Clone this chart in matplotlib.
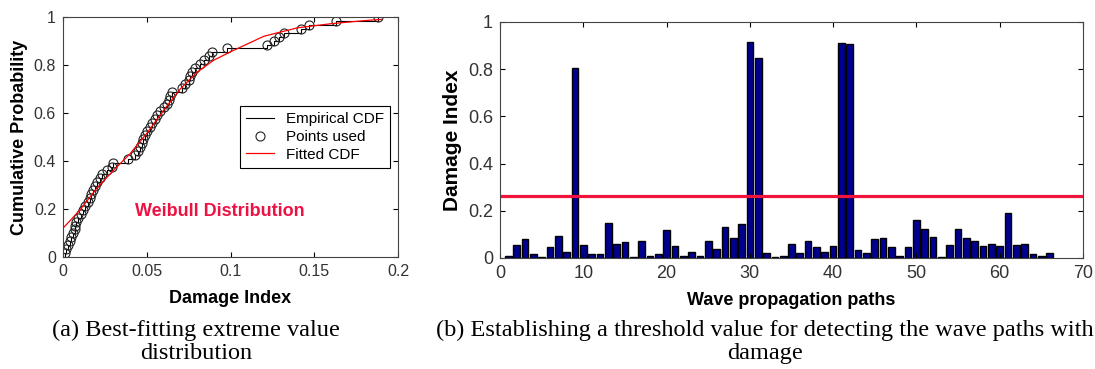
import matplotlib
matplotlib.use("Agg")
import matplotlib.pyplot as plt
import numpy as np

plt.rcParams['font.family'] = ['Liberation Sans', 'DejaVu Sans']

# (a) damage indices of the undamaged paths, sorted
di_sorted = [0.001, 0.002, 0.003, 0.004, 0.005, 0.006, 0.007, 0.007, 0.008, 0.009,
             0.011, 0.012, 0.013, 0.015, 0.016, 0.017, 0.018, 0.019, 0.020, 0.022,
             0.023, 0.026, 0.029, 0.030, 0.039, 0.043, 0.045, 0.046, 0.047, 0.048,
             0.049, 0.050, 0.052, 0.053, 0.055, 0.056, 0.058, 0.060, 0.062, 0.063,
             0.064, 0.065, 0.071, 0.073, 0.075, 0.076, 0.077, 0.079, 0.082, 0.084,
             0.087, 0.089, 0.098, 0.122, 0.126, 0.129, 0.132, 0.142, 0.147, 0.163,
             0.188]

# fitted CDF curve
fit_x = [0.0, 0.01, 0.02, 0.03, 0.04, 0.05, 0.06, 0.07, 0.08, 0.09, 0.10,
         0.12, 0.14, 0.16, 0.18, 0.19]
fit_y = [0.12, 0.195, 0.285, 0.36, 0.43, 0.515, 0.61, 0.70, 0.77, 0.82, 0.855,
         0.92, 0.955, 0.972, 0.985, 0.99]

# (b) damage index per wave propagation path
paths = list(range(1, 67))
damage = [0.010, 0.055, 0.080, 0.015, 0.005, 0.045, 0.095, 0.025, 0.805, 0.055,
          0.015, 0.015, 0.148, 0.060, 0.066, 0.005, 0.073, 0.010, 0.015, 0.120,
          0.050, 0.010, 0.027, 0.010, 0.073, 0.040, 0.132, 0.085, 0.143, 0.917,
          0.847, 0.020, 0.005, 0.010, 0.060, 0.020, 0.073, 0.045, 0.027, 0.050,
          0.910, 0.905, 0.033, 0.020, 0.080, 0.085, 0.045, 0.010, 0.045, 0.160,
          0.125, 0.090, 0.005, 0.055, 0.125, 0.085, 0.073, 0.050, 0.060, 0.050,
          0.190, 0.055, 0.060, 0.015, 0.010, 0.020]
threshold = 0.262

W, H = 1095, 369
fig = plt.figure(figsize=(W / 100, H / 100), dpi=100)


def px_axes(x0, y0, x1, y1):
    return fig.add_axes([x0 / W, 1 - y1 / H, (x1 - x0) / W, (y1 - y0) / H])


def style(ax, size):
    ax.tick_params(direction='in', length=3.5, width=0.8, top=True, right=True,
                   labelsize=size, labelcolor='#333333', pad=5)
    for s in ax.spines.values():
        s.set_linewidth(0.8)
        s.set_color('#444444')


# ---- left: empirical vs fitted CDF ----
ax1 = px_axes(63, 17, 398, 257)
n = len(di_sorted)
cdf = np.arange(1, n + 1) / n
ax1.step([di_sorted[0]] + di_sorted, [0] + list(cdf), where='post',
         color='black', lw=0.8, label='Empirical CDF')
ax1.plot(di_sorted, cdf, 'o', ms=6.5, mfc='none', mec='#222222', mew=0.8,
         label='Points used')
ax1.plot(fit_x, fit_y, color='red', lw=0.9, label='Fitted CDF')
ax1.set_xlim(0, 0.2)
ax1.set_ylim(0, 1)
ax1.set_xticks([0, 0.05, 0.1, 0.15, 0.2])
ax1.set_xticklabels(['0', '0.05', '0.1', '0.15', '0.2'])
ax1.set_yticks([0, 0.2, 0.4, 0.6, 0.8, 1])
ax1.set_yticklabels(['0', '0.2', '0.4', '0.6', '0.8', '1'])
style(ax1, 11.5)
ax1.set_xlabel('Damage Index', fontsize=13, fontweight='bold', labelpad=8)
ax1.set_ylabel('Cumulative Probability', fontsize=13, fontweight='bold', labelpad=4)
ax1.text(0.043, 0.19, 'Weibull Distribution', color='#EE1144', fontsize=13,
         fontweight='bold', va='center')
leg = ax1.legend(loc='center right', bbox_to_anchor=(0.976, 0.5), fontsize=11,
                 frameon=True, fancybox=False, edgecolor='black', framealpha=1,
                 handlelength=1.8, handletextpad=0.8, borderpad=0.4,
                 labelspacing=0.25, borderaxespad=0)
leg.get_frame().set_linewidth(0.8)

# ---- right: damage index per path ----
ax2 = px_axes(500, 22, 1083, 258)
ax2.bar(paths, damage, width=0.8, color='#000090', edgecolor='black', linewidth=1.0)
ax2.axhline(threshold, color='#F0143C', lw=2.3)
ax2.set_xlim(0, 70)
ax2.set_ylim(0, 1)
ax2.set_xticks(range(0, 71, 10))
ax2.set_yticks([0, 0.2, 0.4, 0.6, 0.8, 1])
ax2.set_yticklabels(['0', '0.2', '0.4', '0.6', '0.8', '1'])
style(ax2, 13)
ax2.set_xlabel('Wave propagation paths', fontsize=13, fontweight='bold', labelpad=7)
ax2.set_ylabel('Damage Index', fontsize=15, fontweight='bold', labelpad=4)

# ---- captions ----
cap = dict(family=['Liberation Serif', 'DejaVu Serif'], fontsize=17.5,
           ha='left', va='top', multialignment='center', linespacing=1.1)
fig.text(52 / W, 1 - 320 / H, '(a) Best-fitting extreme value\ndistribution', **cap)
fig.text(436 / W, 1 - 320 / H,
         '(b) Establishing a threshold value for detecting the wave paths with\ndamage',
         **cap)

fig.savefig('out.png', dpi=100)
